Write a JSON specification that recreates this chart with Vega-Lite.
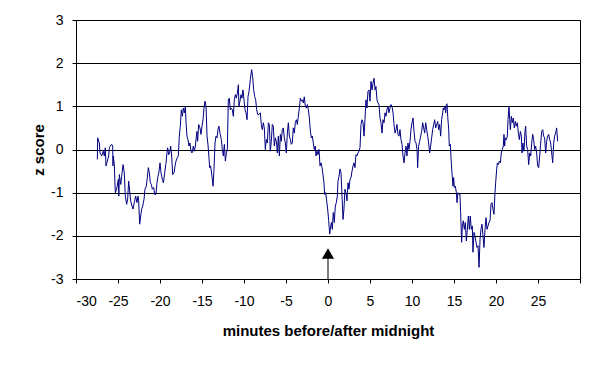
{
  "$schema": "https://vega.github.io/schema/vega-lite/v6.json",
  "width": 504,
  "height": 259,
  "autosize": "none",
  "padding": {"left": 76, "top": 20, "right": 20, "bottom": 90},
  "background": "white",
  "config": {
    "view": {"stroke": "black", "strokeWidth": 1},
    "font": "Liberation Sans",
    "axis": {
      "domainColor": "black",
      "tickColor": "black",
      "labelColor": "black",
      "titleColor": "black",
      "gridColor": "black",
      "gridOpacity": 1,
      "labelFont": "Liberation Sans",
      "titleFont": "Liberation Sans",
      "labelFontSize": 14,
      "titleFontSize": 15,
      "titleFontWeight": "bold",
      "tickSize": 4
    }
  },
  "datasets": {
    "series": [
      {"m": -27.46, "z": -0.23}, {"m": -27.42, "z": 0.27}, {"m": -27.22, "z": 0.15}, {"m": -27.14, "z": -0.08},
      {"m": -26.94, "z": -0.15}, {"m": -26.75, "z": -0.04}, {"m": -26.63, "z": -0.15}, {"m": -26.51, "z": 0.04},
      {"m": -26.43, "z": -0.38}, {"m": -26.27, "z": -0.27}, {"m": -26.11, "z": -0.15}, {"m": -26.03, "z": 0.04},
      {"m": -25.91, "z": 0.08}, {"m": -25.75, "z": 0.12}, {"m": -25.63, "z": 0.08}, {"m": -25.60, "z": -0.38},
      {"m": -25.56, "z": -0.15}, {"m": -25.44, "z": -0.35}, {"m": -25.32, "z": -1.0}, {"m": -25.16, "z": -0.92},
      {"m": -24.96, "z": -0.69}, {"m": -24.90, "z": -1.08}, {"m": -24.84, "z": -0.58}, {"m": -24.68, "z": -0.81},
      {"m": -24.56, "z": -0.62}, {"m": -24.40, "z": -0.35}, {"m": -24.25, "z": -0.54}, {"m": -24.13, "z": -1.08},
      {"m": -23.97, "z": -1.27}, {"m": -23.85, "z": -1.15}, {"m": -23.73, "z": -0.73}, {"m": -23.61, "z": -0.96},
      {"m": -23.49, "z": -1.19}, {"m": -23.33, "z": -1.31}, {"m": -23.21, "z": -1.38}, {"m": -23.06, "z": -1.23},
      {"m": -22.90, "z": -1.08}, {"m": -22.74, "z": -1.23}, {"m": -22.62, "z": -1.08}, {"m": -22.54, "z": -1.19},
      {"m": -22.42, "z": -1.73}, {"m": -22.30, "z": -1.54}, {"m": -22.18, "z": -1.38}, {"m": -22.06, "z": -1.31},
      {"m": -21.90, "z": -1.15}, {"m": -21.79, "z": -0.92}, {"m": -21.63, "z": -0.85}, {"m": -21.51, "z": -0.65},
      {"m": -21.39, "z": -0.42}, {"m": -21.27, "z": -0.54}, {"m": -21.15, "z": -0.77}, {"m": -21.03, "z": -0.81},
      {"m": -20.91, "z": -0.92}, {"m": -20.75, "z": -0.88}, {"m": -20.63, "z": -1.04}, {"m": -20.48, "z": -1.04},
      {"m": -20.36, "z": -0.77}, {"m": -20.24, "z": -0.62}, {"m": -20.12, "z": -0.52}, {"m": -20.00, "z": -0.31},
      {"m": -19.88, "z": -0.54}, {"m": -19.72, "z": -0.69}, {"m": -19.60, "z": -0.77}, {"m": -19.44, "z": -0.54},
      {"m": -19.29, "z": -0.32}, {"m": -19.17, "z": -0.08}, {"m": -19.09, "z": 0.04}, {"m": -18.97, "z": -0.12},
      {"m": -18.85, "z": -0.08}, {"m": -18.73, "z": 0.08}, {"m": -18.61, "z": -0.15}, {"m": -18.49, "z": -0.58},
      {"m": -18.33, "z": -0.54}, {"m": -18.21, "z": -0.38}, {"m": -18.10, "z": -0.27}, {"m": -17.94, "z": -0.19},
      {"m": -17.82, "z": -0.15}, {"m": -17.70, "z": 0.31}, {"m": -17.58, "z": 0.54}, {"m": -17.46, "z": 0.92},
      {"m": -17.34, "z": 0.77}, {"m": -17.22, "z": 0.96}, {"m": -17.10, "z": 0.85}, {"m": -16.98, "z": 1.0},
      {"m": -16.90, "z": 0.62}, {"m": -16.79, "z": 0.31}, {"m": -16.67, "z": 0.23}, {"m": -16.55, "z": 0.08},
      {"m": -16.43, "z": 0.15}, {"m": -16.31, "z": -0.04}, {"m": -16.19, "z": -0.08}, {"m": -16.03, "z": 0.08},
      {"m": -15.91, "z": -0.04}, {"m": -15.79, "z": 0.08}, {"m": -15.67, "z": 0.31}, {"m": -15.60, "z": 0.42},
      {"m": -15.52, "z": 0.19}, {"m": -15.40, "z": 0.58}, {"m": -15.24, "z": 0.5}, {"m": -15.12, "z": 0.35},
      {"m": -15.00, "z": 0.54}, {"m": -14.88, "z": 0.69}, {"m": -14.76, "z": 0.96}, {"m": -14.64, "z": 1.12},
      {"m": -14.52, "z": 1.0}, {"m": -14.40, "z": 0.31}, {"m": -14.29, "z": 0.12}, {"m": -14.17, "z": -0.19},
      {"m": -14.09, "z": -0.42}, {"m": -13.97, "z": -0.38}, {"m": -13.81, "z": -0.62}, {"m": -13.69, "z": -0.85},
      {"m": -13.57, "z": -0.46}, {"m": -13.45, "z": 0.15}, {"m": -13.33, "z": 0.31}, {"m": -13.21, "z": 0.27},
      {"m": -13.10, "z": 0.46}, {"m": -12.98, "z": 0.54}, {"m": -12.86, "z": 0.38}, {"m": -12.70, "z": 0.23},
      {"m": -12.58, "z": 0.0}, {"m": -12.46, "z": -0.15}, {"m": -12.34, "z": 0.12}, {"m": -12.22, "z": -0.27},
      {"m": -12.10, "z": -0.08}, {"m": -11.98, "z": 0.0}, {"m": -11.87, "z": 1.15}, {"m": -11.75, "z": 1.19},
      {"m": -11.63, "z": 0.92}, {"m": -11.51, "z": 0.96}, {"m": -11.39, "z": 0.92}, {"m": -11.27, "z": 0.77},
      {"m": -11.15, "z": 1.15}, {"m": -11.03, "z": 1.27}, {"m": -10.91, "z": 1.19}, {"m": -10.79, "z": 1.31},
      {"m": -10.67, "z": 1.5}, {"m": -10.60, "z": 1.0}, {"m": -10.48, "z": 1.12}, {"m": -10.36, "z": 1.27},
      {"m": -10.24, "z": 1.19}, {"m": -10.12, "z": 1.38}, {"m": -10.00, "z": 1.15}, {"m": -9.88, "z": 0.92},
      {"m": -9.76, "z": 0.85}, {"m": -9.64, "z": 0.69}, {"m": -9.52, "z": 1.23}, {"m": -9.40, "z": 1.35},
      {"m": -9.25, "z": 1.62}, {"m": -9.09, "z": 1.85}, {"m": -8.97, "z": 1.69}, {"m": -8.85, "z": 1.38},
      {"m": -8.73, "z": 1.23}, {"m": -8.61, "z": 1.15}, {"m": -8.49, "z": 0.92}, {"m": -8.37, "z": 0.81},
      {"m": -8.21, "z": 0.81}, {"m": -8.06, "z": 0.85}, {"m": -7.94, "z": 0.58}, {"m": -7.82, "z": 0.46},
      {"m": -7.70, "z": 0.62}, {"m": -7.58, "z": 0.5}, {"m": -7.46, "z": 0.0}, {"m": -7.34, "z": 0.23},
      {"m": -7.22, "z": 0.15}, {"m": -7.10, "z": 0.62}, {"m": -6.98, "z": 0.58}, {"m": -6.87, "z": -0.04},
      {"m": -6.75, "z": 0.19}, {"m": -6.63, "z": 0.58}, {"m": -6.51, "z": 0.54}, {"m": -6.39, "z": 0.08},
      {"m": -6.27, "z": 0.27}, {"m": -6.15, "z": 0.19}, {"m": -6.03, "z": -0.08}, {"m": -5.91, "z": 0.31},
      {"m": -5.79, "z": -0.15}, {"m": -5.67, "z": 0.35}, {"m": -5.56, "z": 0.19}, {"m": -5.44, "z": 0.46},
      {"m": -5.32, "z": 0.5}, {"m": -5.20, "z": 0.27}, {"m": -5.08, "z": 0.15}, {"m": -4.96, "z": -0.08},
      {"m": -4.84, "z": 0.38}, {"m": -4.72, "z": 0.62}, {"m": -4.60, "z": 0.31}, {"m": -4.48, "z": 0.23},
      {"m": -4.37, "z": 0.12}, {"m": -4.25, "z": 0.15}, {"m": -4.13, "z": 0.5}, {"m": -4.01, "z": 0.38},
      {"m": -3.89, "z": 0.62}, {"m": -3.77, "z": 0.69}, {"m": -3.65, "z": 0.58}, {"m": -3.53, "z": 0.77},
      {"m": -3.41, "z": 0.96}, {"m": -3.29, "z": 1.19}, {"m": -3.17, "z": 1.12}, {"m": -3.06, "z": 1.15},
      {"m": -2.94, "z": 1.08}, {"m": -2.82, "z": 1.22}, {"m": -2.70, "z": 1.0}, {"m": -2.58, "z": 0.96},
      {"m": -2.46, "z": 1.04}, {"m": -2.34, "z": 0.92}, {"m": -2.22, "z": 0.73}, {"m": -2.10, "z": 0.42},
      {"m": -1.98, "z": 0.27}, {"m": -1.87, "z": 0.31}, {"m": -1.75, "z": 0.15}, {"m": -1.63, "z": 0.0},
      {"m": -1.51, "z": 0.08}, {"m": -1.43, "z": -0.15}, {"m": -1.31, "z": -0.04}, {"m": -1.19, "z": -0.12},
      {"m": -1.07, "z": 0.0}, {"m": -0.95, "z": -0.38}, {"m": -0.83, "z": -0.31}, {"m": -0.71, "z": -0.42},
      {"m": -0.60, "z": -0.58}, {"m": -0.48, "z": -0.77}, {"m": -0.40, "z": -1.04}, {"m": -0.28, "z": -1.0},
      {"m": -0.16, "z": -1.19}, {"m": -0.04, "z": -1.38}, {"m": 0.08, "z": -1.65}, {"m": 0.20, "z": -1.96},
      {"m": 0.28, "z": -1.85}, {"m": 0.40, "z": -1.69}, {"m": 0.52, "z": -1.85}, {"m": 0.63, "z": -1.46},
      {"m": 0.75, "z": -1.69}, {"m": 0.87, "z": -1.31}, {"m": 0.99, "z": -1.23}, {"m": 1.11, "z": -1.08},
      {"m": 1.19, "z": -0.73}, {"m": 1.31, "z": -0.62}, {"m": 1.43, "z": -0.45}, {"m": 1.55, "z": -0.54},
      {"m": 1.67, "z": -1.08}, {"m": 1.79, "z": -1.62}, {"m": 1.90, "z": -1.38}, {"m": 2.02, "z": -0.92},
      {"m": 2.14, "z": -1.0}, {"m": 2.26, "z": -1.19}, {"m": 2.38, "z": -0.77}, {"m": 2.50, "z": -0.92},
      {"m": 2.62, "z": -0.69}, {"m": 2.74, "z": -0.65}, {"m": 2.86, "z": -0.5}, {"m": 2.98, "z": -0.38},
      {"m": 3.10, "z": -0.31}, {"m": 3.21, "z": -0.42}, {"m": 3.33, "z": -0.12}, {"m": 3.45, "z": -0.15},
      {"m": 3.57, "z": -0.08}, {"m": 3.69, "z": -0.04}, {"m": 3.81, "z": 0.04}, {"m": 3.93, "z": 0.58},
      {"m": 4.05, "z": 0.69}, {"m": 4.17, "z": 0.62}, {"m": 4.29, "z": 0.31}, {"m": 4.40, "z": 0.69},
      {"m": 4.52, "z": 1.15}, {"m": 4.64, "z": 0.96}, {"m": 4.76, "z": 1.35}, {"m": 4.88, "z": 1.38},
      {"m": 5.00, "z": 1.12}, {"m": 5.12, "z": 1.58}, {"m": 5.24, "z": 1.38}, {"m": 5.36, "z": 1.54},
      {"m": 5.48, "z": 1.65}, {"m": 5.60, "z": 1.38}, {"m": 5.71, "z": 1.46}, {"m": 5.83, "z": 1.15},
      {"m": 5.95, "z": 1.08}, {"m": 6.07, "z": 1.04}, {"m": 6.19, "z": 0.73}, {"m": 6.31, "z": 0.62},
      {"m": 6.43, "z": 0.38}, {"m": 6.55, "z": 0.69}, {"m": 6.67, "z": 0.62}, {"m": 6.79, "z": 0.85},
      {"m": 6.90, "z": 0.77}, {"m": 7.02, "z": 0.92}, {"m": 7.14, "z": 1.0}, {"m": 7.26, "z": 0.85},
      {"m": 7.38, "z": 0.96}, {"m": 7.50, "z": 1.04}, {"m": 7.62, "z": 1.0}, {"m": 7.74, "z": 0.85},
      {"m": 7.86, "z": 0.58}, {"m": 7.98, "z": 0.38}, {"m": 8.10, "z": 0.46}, {"m": 8.21, "z": 0.58},
      {"m": 8.33, "z": 0.35}, {"m": 8.45, "z": 0.31}, {"m": 8.57, "z": 0.46}, {"m": 8.69, "z": 0.23},
      {"m": 8.81, "z": 0.12}, {"m": 8.93, "z": -0.15}, {"m": 9.05, "z": -0.31}, {"m": 9.17, "z": -0.08},
      {"m": 9.29, "z": 0.08}, {"m": 9.40, "z": -0.15}, {"m": 9.52, "z": 0.15}, {"m": 9.64, "z": 0.0},
      {"m": 9.76, "z": 0.19}, {"m": 9.88, "z": 0.46}, {"m": 10.00, "z": 0.62}, {"m": 10.12, "z": 0.73},
      {"m": 10.24, "z": 0.42}, {"m": 10.36, "z": 0.19}, {"m": 10.48, "z": 0.15}, {"m": 10.60, "z": 0.0},
      {"m": 10.67, "z": -0.42}, {"m": 10.79, "z": 0.08}, {"m": 10.91, "z": 0.19}, {"m": 11.03, "z": 0.31},
      {"m": 11.15, "z": 0.42}, {"m": 11.27, "z": 0.62}, {"m": 11.39, "z": 0.5}, {"m": 11.51, "z": 0.38},
      {"m": 11.63, "z": 0.62}, {"m": 11.75, "z": 0.46}, {"m": 11.87, "z": 0.31}, {"m": 11.98, "z": 0.15},
      {"m": 12.10, "z": -0.08}, {"m": 12.22, "z": 0.08}, {"m": 12.34, "z": 0.27}, {"m": 12.46, "z": 0.46},
      {"m": 12.58, "z": 0.58}, {"m": 12.70, "z": 0.69}, {"m": 12.82, "z": 0.5}, {"m": 12.94, "z": 0.58},
      {"m": 13.06, "z": 0.65}, {"m": 13.17, "z": 0.46}, {"m": 13.29, "z": 0.58}, {"m": 13.41, "z": 0.31},
      {"m": 13.53, "z": 0.69}, {"m": 13.65, "z": 0.85}, {"m": 13.73, "z": 0.96}, {"m": 13.81, "z": 0.92},
      {"m": 13.93, "z": 1.0}, {"m": 14.01, "z": 0.85}, {"m": 14.09, "z": 1.04}, {"m": 14.17, "z": 1.06},
      {"m": 14.25, "z": 0.77}, {"m": 14.37, "z": 0.46}, {"m": 14.44, "z": 0.08}, {"m": 14.56, "z": 0.12},
      {"m": 14.68, "z": -0.31}, {"m": 14.76, "z": -0.54}, {"m": 14.88, "z": -0.85}, {"m": 14.96, "z": -0.65},
      {"m": 15.04, "z": -0.88}, {"m": 15.16, "z": -0.85}, {"m": 15.28, "z": -1.0}, {"m": 15.36, "z": -1.23},
      {"m": 15.48, "z": -1.0}, {"m": 15.60, "z": -1.04}, {"m": 15.71, "z": -1.04}, {"m": 15.79, "z": -1.46},
      {"m": 15.91, "z": -2.15}, {"m": 15.99, "z": -1.77}, {"m": 16.11, "z": -1.65}, {"m": 16.23, "z": -1.85},
      {"m": 16.35, "z": -1.69}, {"m": 16.47, "z": -2.12}, {"m": 16.59, "z": -1.85}, {"m": 16.71, "z": -1.54},
      {"m": 16.83, "z": -1.85}, {"m": 16.94, "z": -1.54}, {"m": 17.06, "z": -1.85}, {"m": 17.18, "z": -1.77},
      {"m": 17.26, "z": -2.38}, {"m": 17.38, "z": -1.92}, {"m": 17.50, "z": -2.0}, {"m": 17.62, "z": -2.15},
      {"m": 17.74, "z": -2.27}, {"m": 17.86, "z": -2.23}, {"m": 17.98, "z": -2.73}, {"m": 18.10, "z": -2.08},
      {"m": 18.21, "z": -1.85}, {"m": 18.33, "z": -1.73}, {"m": 18.45, "z": -2.0}, {"m": 18.57, "z": -2.27},
      {"m": 18.69, "z": -1.85}, {"m": 18.81, "z": -1.58}, {"m": 18.93, "z": -1.85}, {"m": 19.05, "z": -1.77},
      {"m": 19.17, "z": -1.69}, {"m": 19.29, "z": -1.65}, {"m": 19.40, "z": -1.27}, {"m": 19.52, "z": -1.23},
      {"m": 19.64, "z": -1.38}, {"m": 19.76, "z": -1.5}, {"m": 19.88, "z": -1.0}, {"m": 19.96, "z": -0.77},
      {"m": 20.08, "z": -0.46}, {"m": 20.16, "z": -0.31}, {"m": 20.28, "z": -0.35}, {"m": 20.40, "z": -0.27},
      {"m": 20.52, "z": -0.31}, {"m": 20.63, "z": -0.08}, {"m": 20.75, "z": 0.0}, {"m": 20.87, "z": 0.08},
      {"m": 20.95, "z": 0.35}, {"m": 21.03, "z": 0.08}, {"m": 21.11, "z": 0.27}, {"m": 21.23, "z": 0.23},
      {"m": 21.35, "z": 0.31}, {"m": 21.43, "z": 0.69}, {"m": 21.55, "z": 1.0}, {"m": 21.63, "z": 0.69},
      {"m": 21.71, "z": 0.46}, {"m": 21.83, "z": 0.77}, {"m": 21.94, "z": 0.62}, {"m": 22.06, "z": 0.73},
      {"m": 22.18, "z": 0.5}, {"m": 22.30, "z": 0.65}, {"m": 22.42, "z": 0.54}, {"m": 22.54, "z": 0.62},
      {"m": 22.66, "z": 0.38}, {"m": 22.78, "z": 0.23}, {"m": 22.90, "z": 0.42}, {"m": 23.02, "z": 0.31},
      {"m": 23.10, "z": -0.08}, {"m": 23.21, "z": 0.15}, {"m": 23.33, "z": -0.04}, {"m": 23.45, "z": 0.42},
      {"m": 23.53, "z": 0.54}, {"m": 23.65, "z": 0.08}, {"m": 23.77, "z": 0.0}, {"m": 23.89, "z": -0.35},
      {"m": 24.01, "z": -0.08}, {"m": 24.13, "z": -0.15}, {"m": 24.25, "z": 0.15}, {"m": 24.37, "z": 0.35},
      {"m": 24.48, "z": 0.23}, {"m": 24.60, "z": 0.0}, {"m": 24.72, "z": 0.08}, {"m": 24.84, "z": -0.08},
      {"m": 24.96, "z": -0.38}, {"m": 25.08, "z": -0.42}, {"m": 25.20, "z": -0.15}, {"m": 25.32, "z": 0.15},
      {"m": 25.44, "z": 0.42}, {"m": 25.56, "z": 0.46}, {"m": 25.67, "z": 0.31}, {"m": 25.79, "z": 0.27},
      {"m": 25.91, "z": -0.08}, {"m": 26.03, "z": 0.19}, {"m": 26.15, "z": 0.31}, {"m": 26.27, "z": 0.35},
      {"m": 26.39, "z": 0.23}, {"m": 26.51, "z": 0.15}, {"m": 26.63, "z": -0.08}, {"m": 26.75, "z": -0.31},
      {"m": 26.87, "z": 0.15}, {"m": 26.98, "z": 0.31}, {"m": 27.10, "z": 0.38}, {"m": 27.22, "z": 0.5},
      {"m": 27.34, "z": 0.19}
    ],
    "arrow": [
      {"m": 0, "z": -2.41, "z0": -3, "z1": -2.5}
    ]
  },
  "layer": [
    {
      "data": {"name": "series"},
      "mark": {"type": "line", "color": "#000080", "strokeWidth": 1, "interpolate": "linear"},
      "encoding": {
        "x": {
          "field": "m", "type": "quantitative",
          "scale": {"domain": [-30, 30], "nice": false, "zero": false},
          "axis": {
            "title": "minutes before/after midnight",
            "values": [-30, -25, -20, -15, -10, -5, 0, 5, 10, 15, 20, 25, 30],
            "labelExpr": "datum.value == 30 ? '' : toString(datum.value)",
            "grid": false,
            "labelPadding": 11,
            "titlePadding": 15
          }
        },
        "y": {
          "field": "z", "type": "quantitative",
          "scale": {"domain": [-3, 3], "nice": false, "zero": false},
          "axis": {
            "title": "z score",
            "values": [-3, -2, -1, 0, 1, 2, 3],
            "labelExpr": "toString(datum.value)",
            "grid": true,
            "labelPadding": 9,
            "titlePadding": 4
          }
        }
      }
    },
    {
      "data": {"name": "arrow"},
      "mark": {"type": "rule", "color": "black", "strokeWidth": 1},
      "encoding": {
        "x": {"field": "m", "type": "quantitative"},
        "y": {"field": "z0", "type": "quantitative"},
        "y2": {"field": "z1"}
      }
    },
    {
      "data": {"name": "arrow"},
      "mark": {"type": "point", "shape": "triangle-up", "filled": true, "color": "black", "size": 150, "opacity": 1},
      "encoding": {
        "x": {"field": "m", "type": "quantitative"},
        "y": {"field": "z", "type": "quantitative"}
      }
    }
  ]
}
